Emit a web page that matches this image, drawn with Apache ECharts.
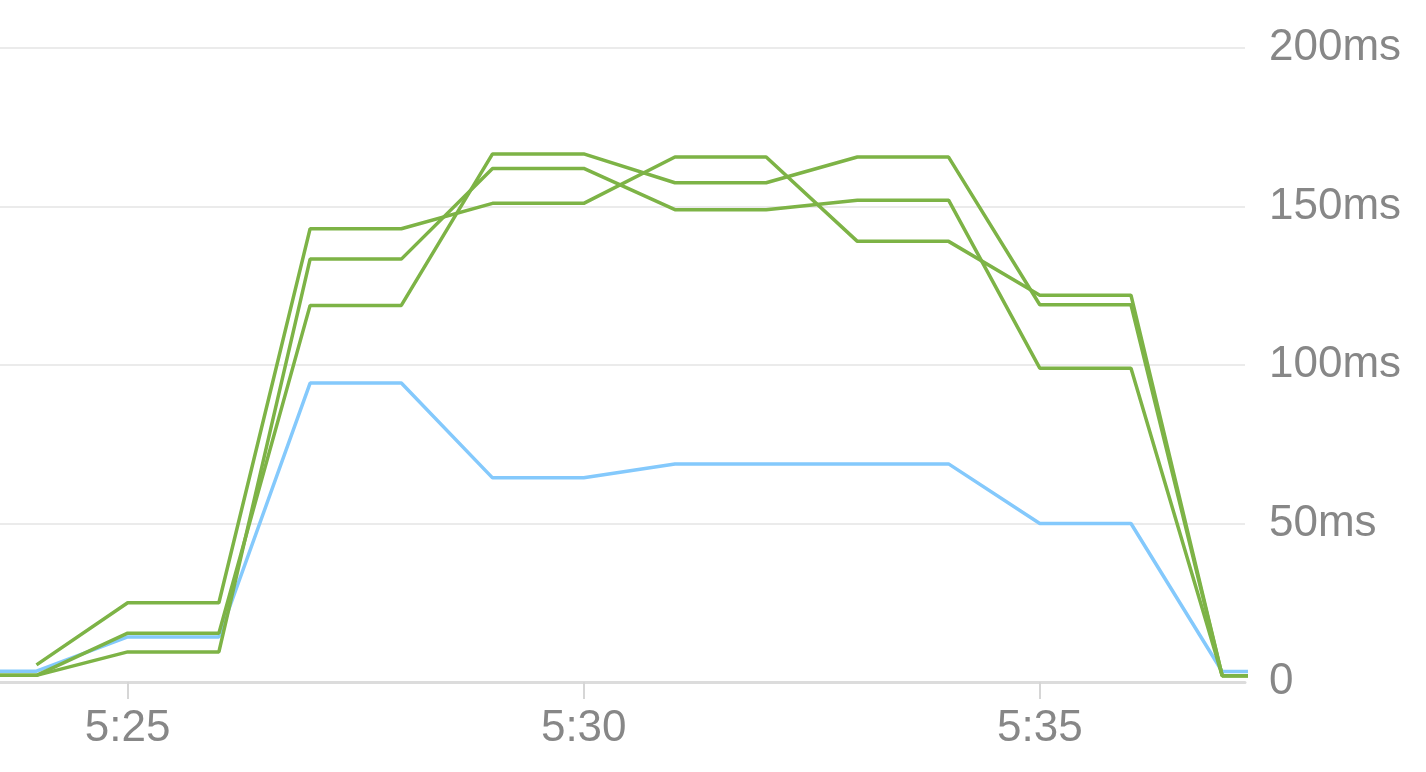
<!DOCTYPE html>
<html>
<head>
<meta charset="utf-8">
<style>
  html, body { margin: 0; padding: 0; background: #ffffff; }
  #chart { width: 1426px; height: 772px; }
</style>
<script src="https://cdn.jsdelivr.net/npm/echarts@6/dist/echarts.min.js"></script>
</head>
<body>
<div id="chart"></div>
<script>
// Minutes past 5:00
const times = [23, 24, 25, 26, 27, 28, 29, 30, 31, 32, 33, 34, 35, 36, 37, 38];
// Response times in ms
const blueSeries   = [3.4, 3.4, 14.2, 14.2, 94.3, 94.3, 64.4, 64.4, 68.8, 68.8, 68.8, 68.8, 50, 50, 3.3, 3.3];
const greenSeries1 = [null, 5.4, 25, 25, 143, 143, 151, 151, 165.6, 165.6, 139, 139, 122, 122, 2, 2];
const greenSeries2 = [2.1, 2.1, 9.5, 9.5, 133.4, 133.4, 162, 162, 149, 149, 152, 152, 99, 99, 2, 2];
const greenSeries3 = [2.1, 2.1, 15.4, 15.4, 118.8, 118.8, 166.6, 166.6, 157.5, 157.5, 165.6, 165.6, 119, 119, 2, 2];
const xTickValues = [25, 30, 35];
const yTickValues = [0, 50, 100, 150, 200];

const pair = (arr) => times.map((t, i) => [t, arr[i]]);

const labelFont = 'Liberation Sans, Arial, sans-serif';
const labelColor = '#878787';

const chart = echarts.init(document.getElementById('chart'), null, { renderer: 'canvas' });

const lineStyleOf = (color) => ({ color: color, width: 3.5 });

chart.setOption({
  animation: false,
  backgroundColor: '#ffffff',
  grid: { left: 0, right: 181, top: 48, bottom: 90, outerBoundsMode: 'none', containLabel: false },
  xAxis: {
    type: 'value',
    min: 23.6,
    max: 37.25,
    axisLine: { show: true, lineStyle: { color: '#dcdcdc', width: 3 } },
    axisTick: { show: true, customValues: xTickValues, length: 17, lineStyle: { color: '#d6d6d6', width: 2 } },
    axisLabel: {
      customValues: xTickValues,
      formatter: (v) => '5:' + v,
      color: labelColor, fontSize: 44, fontFamily: labelFont, margin: 25
    },
    splitLine: { show: false }
  },
  yAxis: {
    type: 'value',
    position: 'right',
    min: 0,
    max: 200,
    interval: 50,
    axisLine: { show: false },
    axisTick: { show: false },
    axisLabel: {
      customValues: yTickValues,
      formatter: (v) => (v === 0 ? '0' : v + 'ms'),
      color: labelColor, fontSize: 44, fontFamily: labelFont, margin: 24
    },
    splitLine: { show: true, lineStyle: { color: '#ebebeb', width: 2 } }
  },
  series: [
    { type: 'line', data: pair(blueSeries), showSymbol: false, lineStyle: lineStyleOf('#84c9fc'), itemStyle: { color: '#84c9fc' }, z: 2 },
    { type: 'line', data: pair(greenSeries1), showSymbol: false, lineStyle: lineStyleOf('#7db346'), itemStyle: { color: '#7db346' }, z: 3 },
    { type: 'line', data: pair(greenSeries2), showSymbol: false, lineStyle: lineStyleOf('#7db346'), itemStyle: { color: '#7db346' }, z: 3 },
    { type: 'line', data: pair(greenSeries3), showSymbol: false, lineStyle: lineStyleOf('#7db346'), itemStyle: { color: '#7db346' }, z: 3 }
  ]
});
</script>
</body>
</html>
